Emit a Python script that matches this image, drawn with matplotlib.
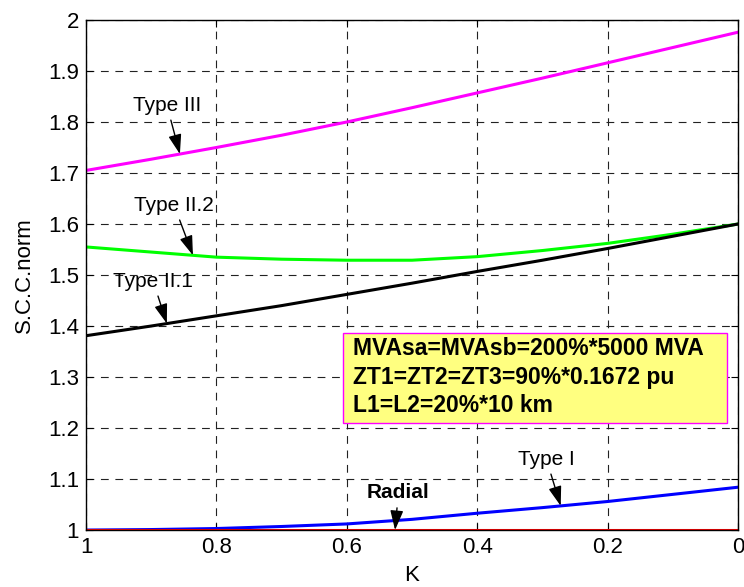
import numpy as np
import matplotlib
matplotlib.use("Agg")
import matplotlib.pyplot as plt
from matplotlib.patches import Rectangle

plt.rcParams['font.family'] = ['Liberation Sans', 'DejaVu Sans']

# data
k = [1.0, 0.9, 0.8, 0.7, 0.6, 0.5, 0.4, 0.3, 0.2, 0.1, 0.0]
type_iii = [1.705, 1.727, 1.750, 1.774, 1.800, 1.828, 1.857, 1.886, 1.916, 1.946, 1.976]
type_ii2 = [1.555, 1.545, 1.535, 1.531, 1.529, 1.529, 1.536, 1.548, 1.562, 1.580, 1.600]
type_ii1 = [1.381, 1.400, 1.420, 1.440, 1.462, 1.484, 1.507, 1.529, 1.552, 1.576, 1.600]
type_i = [1.000, 1.001, 1.003, 1.007, 1.012, 1.021, 1.033, 1.044, 1.056, 1.070, 1.084]
radial = [1.0] * len(k)

x_ticks = [1, 0.8, 0.6, 0.4, 0.2, 0]
x_tick_labels = ['1', '0.8', '0.6', '0.4', '0.2', '0']
y_ticks = [1, 1.1, 1.2, 1.3, 1.4, 1.5, 1.6, 1.7, 1.8, 1.9, 2]
y_tick_labels = ['1', '1.1', '1.2', '1.3', '1.4', '1.5', '1.6', '1.7', '1.8', '1.9', '2']

box_lines = ["MVAsa=MVAsb=200%*5000 MVA", "ZT1=ZT2=ZT3=90%*0.1672 pu", "L1=L2=20%*10 km"]

fig = plt.figure(figsize=(7.44, 5.87), dpi=100)
ax = fig.add_axes([0.1156, 0.097, 0.8764, 0.869])

ax.plot(k, type_iii, color='#ff00ff', lw=2.2)
ax.plot(k, type_ii2, color='#00ff00', lw=2.2)
ax.plot(k, type_ii1, color='black', lw=2.2)
ax.plot(k, type_i, color='#0000ff', lw=2.2)
ax.plot(k, radial, color='#ff0000', lw=2.2)

ax.set_xlim(1, 0)
ax.set_ylim(1, 2)
ax.set_xticks(x_ticks)
ax.set_xticklabels(x_tick_labels)
ax.set_yticks(y_ticks)
ax.set_yticklabels(y_tick_labels)
ax.tick_params(direction='in', length=5, labelsize=16, top=True, right=True, pad=5)
ax.grid(True, color='#222222', linestyle=(0, (7, 6)), linewidth=0.8)
for s in ax.spines.values():
    s.set_linewidth(1)

ax.set_xlabel('K', fontsize=16, labelpad=5)
ax.set_ylabel('S.C.C.norm', fontsize=16, labelpad=9)

arrow = dict(arrowstyle='-|>,head_length=0.6,head_width=0.2', color='black', lw=1,
             mutation_scale=20, shrinkA=2, shrinkB=0)
txt = dict(fontsize=15, ha='center', va='center')

def kval(xk, xs, ys):
    return float(np.interp(xk, xs[::-1], ys[::-1]))

ax.annotate('Type III', xy=(0.856, kval(0.856, k, type_iii)), xytext=(0.876, 1.833),
            arrowprops=arrow, **txt)
ax.annotate('Type II.2', xy=(0.836, kval(0.836, k, type_ii2)), xytext=(0.865, 1.637),
            arrowprops=arrow, **txt)
ax.annotate('Type II.1', xy=(0.876, kval(0.876, k, type_ii1)), xytext=(0.897, 1.488),
            arrowprops=arrow, **txt)
ax.annotate('Type I', xy=(0.272, kval(0.272, k, type_i)), xytext=(0.294, 1.139),
            arrowprops=arrow, **txt)
ax.annotate('Radial', xy=(0.526, 1.0), xytext=(0.521, 1.073),
            arrowprops=arrow, fontweight='bold', **txt)

ax.add_patch(Rectangle((0.606, 1.210), 0.017 - 0.606, 1.386 - 1.210, facecolor='#ffff80',
                       edgecolor='#ff00ff', lw=1, zorder=3))
for i, line in enumerate(box_lines):
    ax.text(0.591, 1.355 - i * 0.055, line, fontsize=16.5, fontweight='bold',
            ha='left', va='center', zorder=4)

fig.savefig('out.png', dpi=100)
